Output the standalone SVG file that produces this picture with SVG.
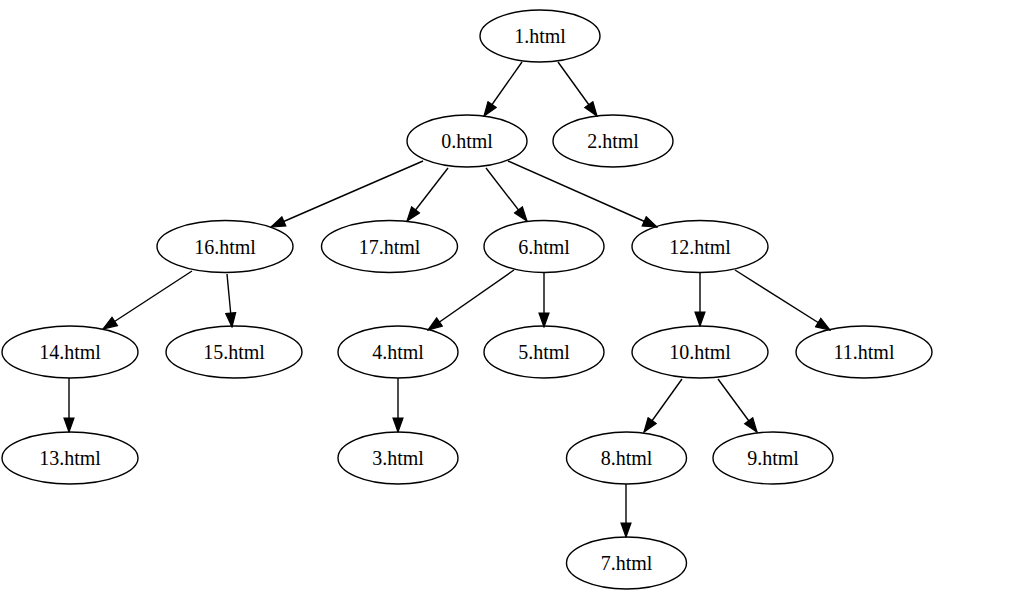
<svg xmlns="http://www.w3.org/2000/svg" width="1019" height="603" viewBox="0 0 1019 603">
<style>
.node ellipse{fill:none;stroke:#000;stroke-width:1.4}
.node text{font-family:"Liberation Serif","Times New Roman",serif;font-size:20px;fill:#000;text-anchor:middle}
.edges line{stroke:#000;stroke-width:1.4;marker-end:url(#arrow)}
</style>
<defs>
<marker id="arrow" markerUnits="userSpaceOnUse" markerWidth="16" markerHeight="12" viewBox="-1 -1 16 12" refX="14" refY="5" orient="auto">
<path d="M0,0 L14,5 L0,10 z" fill="#000" stroke="#000" stroke-width="1.2"/>
</marker>
</defs>
<rect width="1019" height="603" fill="#fff"/>
<g id="edges" class="edges">
<line x1="522" y1="62" x2="484" y2="116"/>
<line x1="558" y1="62" x2="597" y2="116"/>
<line x1="423" y1="161" x2="271" y2="227"/>
<line x1="448" y1="168" x2="407" y2="221"/>
<line x1="486" y1="168" x2="527" y2="221"/>
<line x1="508" y1="161" x2="657" y2="227"/>
<line x1="192" y1="271" x2="103" y2="329"/>
<line x1="227" y1="274" x2="232" y2="327"/>
<line x1="514" y1="270" x2="428" y2="330"/>
<line x1="544" y1="273" x2="544" y2="327"/>
<line x1="700" y1="273" x2="700" y2="326"/>
<line x1="735" y1="270" x2="830" y2="330"/>
<line x1="69" y1="378" x2="69" y2="432"/>
<line x1="398" y1="378" x2="398" y2="432"/>
<line x1="682" y1="379" x2="644" y2="432"/>
<line x1="718" y1="379" x2="757" y2="432"/>
<line x1="626" y1="484" x2="626" y2="537"/>
</g>
<g id="n1" class="node"><ellipse cx="540" cy="36" rx="60" ry="26"/><text x="540" y="43">1.html</text></g>
<g id="n0" class="node"><ellipse cx="467" cy="141" rx="60" ry="26"/><text x="467" y="148">0.html</text></g>
<g id="n2" class="node"><ellipse cx="613" cy="141" rx="60" ry="26"/><text x="613" y="148">2.html</text></g>
<g id="n16" class="node"><ellipse cx="225" cy="246.5" rx="68" ry="26"/><text x="225" y="253.5">16.html</text></g>
<g id="n17" class="node"><ellipse cx="389.5" cy="246.5" rx="68" ry="26"/><text x="389.5" y="253.5">17.html</text></g>
<g id="n6" class="node"><ellipse cx="544" cy="246.5" rx="60" ry="26"/><text x="544" y="253.5">6.html</text></g>
<g id="n12" class="node"><ellipse cx="700" cy="246.5" rx="68" ry="26"/><text x="700" y="253.5">12.html</text></g>
<g id="n14" class="node"><ellipse cx="70" cy="352" rx="68" ry="26"/><text x="70" y="359">14.html</text></g>
<g id="n15" class="node"><ellipse cx="234" cy="352" rx="68" ry="26"/><text x="234" y="359">15.html</text></g>
<g id="n4" class="node"><ellipse cx="398" cy="352" rx="60" ry="26"/><text x="398" y="359">4.html</text></g>
<g id="n5" class="node"><ellipse cx="544" cy="352" rx="60" ry="26"/><text x="544" y="359">5.html</text></g>
<g id="n10" class="node"><ellipse cx="700" cy="352" rx="68" ry="26"/><text x="700" y="359">10.html</text></g>
<g id="n11" class="node"><ellipse cx="864" cy="352" rx="68" ry="26"/><text x="864" y="359">11.html</text></g>
<g id="n13" class="node"><ellipse cx="70" cy="458" rx="68" ry="26"/><text x="70" y="465">13.html</text></g>
<g id="n3" class="node"><ellipse cx="398" cy="458" rx="60" ry="26"/><text x="398" y="465">3.html</text></g>
<g id="n8" class="node"><ellipse cx="626.5" cy="458" rx="60" ry="26"/><text x="626.5" y="465">8.html</text></g>
<g id="n9" class="node"><ellipse cx="773" cy="458" rx="60" ry="26"/><text x="773" y="465">9.html</text></g>
<g id="n7" class="node"><ellipse cx="626.5" cy="563" rx="60" ry="26"/><text x="626.5" y="570">7.html</text></g>
</svg>
